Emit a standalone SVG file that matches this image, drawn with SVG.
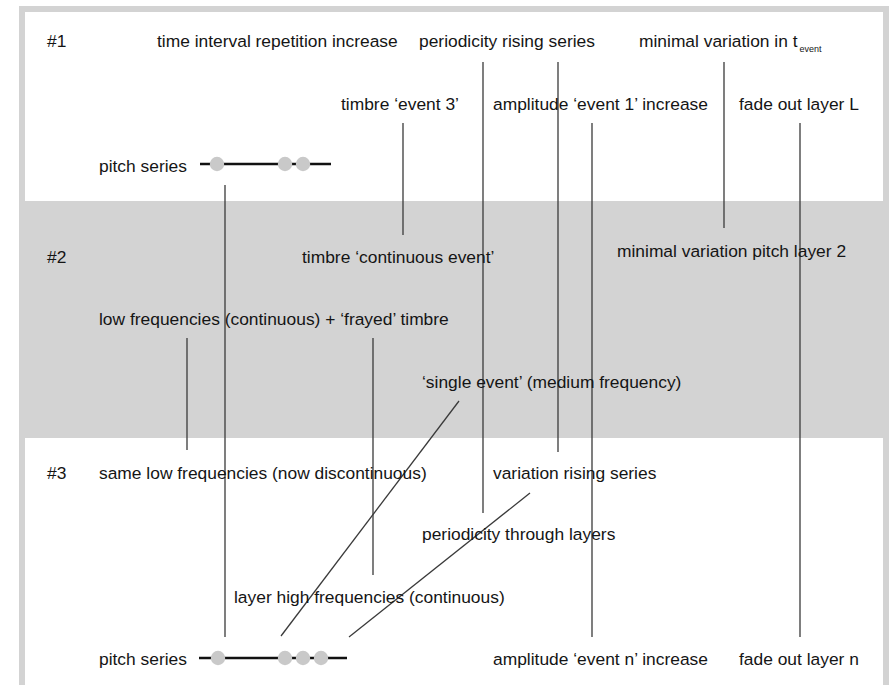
<svg xmlns="http://www.w3.org/2000/svg" width="891" height="685" viewBox="0 0 891 685">
<style>
text{font-family:"Liberation Sans",Arial,sans-serif;font-size:17.4px;fill:#151515}
.sub{font-size:9px}
.ln{stroke:#3a3a3a;stroke-width:1.3;fill:none}
.ps{stroke:#111;stroke-width:2.6}
.dot{fill:#c9c9c9}
</style>
<rect x="0" y="0" width="891" height="685" fill="#fff"/>
<rect x="19" y="6" width="870" height="690" fill="#d3d3d3"/>
<rect x="25" y="12" width="858" height="189" fill="#fff"/>
<rect x="25" y="438" width="858" height="260" fill="#fff"/>
<g id="section-labels">
<text x="47" y="47">#1</text>
<text x="47" y="263">#2</text>
<text x="47" y="479">#3</text>
</g>
<g id="connectors">
<line class="ln" x1="225" y1="185" x2="225" y2="637"/>
<line class="ln" x1="403" y1="123" x2="403" y2="235"/>
<line class="ln" x1="483" y1="62" x2="483" y2="513"/>
<line class="ln" x1="558" y1="62" x2="558" y2="452"/>
<line class="ln" x1="592" y1="123" x2="592" y2="637"/>
<line class="ln" x1="724" y1="62" x2="724" y2="228"/>
<line class="ln" x1="800" y1="123" x2="800" y2="637"/>
<line class="ln" x1="187" y1="338" x2="187" y2="450"/>
<line class="ln" x1="373" y1="338" x2="373" y2="575"/>
<line class="ln" x1="459" y1="401" x2="281" y2="636"/>
<line class="ln" x1="530" y1="493" x2="349" y2="637"/>
</g>
<g id="pitch-series-1">
<text x="99" y="172">pitch series</text>
<line class="ps" x1="200" y1="164" x2="331" y2="164"/>
<circle class="dot" cx="217" cy="164" r="7.2"/>
<circle class="dot" cx="285" cy="164" r="7.2"/>
<circle class="dot" cx="303" cy="164" r="7.2"/>
</g>
<g id="pitch-series-3">
<text x="99" y="665">pitch series</text>
<line class="ps" x1="199" y1="658" x2="347" y2="658"/>
<circle class="dot" cx="218" cy="658" r="7.2"/>
<circle class="dot" cx="285" cy="658" r="7.2"/>
<circle class="dot" cx="303" cy="658" r="7.2"/>
<circle class="dot" cx="321" cy="658" r="7.2"/>
</g>
<g id="n-time-interval"><text x="157" y="47">time interval repetition increase</text></g>
<g id="n-periodicity-rising"><text x="419" y="47">periodicity rising series</text></g>
<g id="n-minimal-variation-t"><text x="639" y="47">minimal variation in t<tspan class="sub" dx="2" dy="5">event</tspan></text></g>
<g id="n-timbre-event3"><text x="341" y="110">timbre ‘event 3’</text></g>
<g id="n-amplitude-event1"><text x="493" y="110">amplitude ‘event 1’ increase</text></g>
<g id="n-fade-L"><text x="739" y="110">fade out layer L</text></g>
<g id="n-timbre-continuous"><text x="302" y="263">timbre ‘continuous event’</text></g>
<g id="n-minimal-variation-pitch"><text x="617" y="257">minimal variation pitch layer 2</text></g>
<g id="n-low-frequencies"><text x="99" y="325">low frequencies (continuous) + ‘frayed’ timbre</text></g>
<g id="n-single-event"><text x="422" y="388">‘single event’ (medium frequency)</text></g>
<g id="n-same-low"><text x="99" y="479">same low frequencies (now discontinuous)</text></g>
<g id="n-variation-rising"><text x="493" y="479">variation rising series</text></g>
<g id="n-periodicity-layers"><text x="422" y="540">periodicity through layers</text></g>
<g id="n-layer-high"><text x="234" y="603">layer high frequencies (continuous)</text></g>
<g id="n-amplitude-eventn"><text x="493" y="665">amplitude ‘event n’ increase</text></g>
<g id="n-fade-n"><text x="739" y="665">fade out layer n</text></g>
</svg>
